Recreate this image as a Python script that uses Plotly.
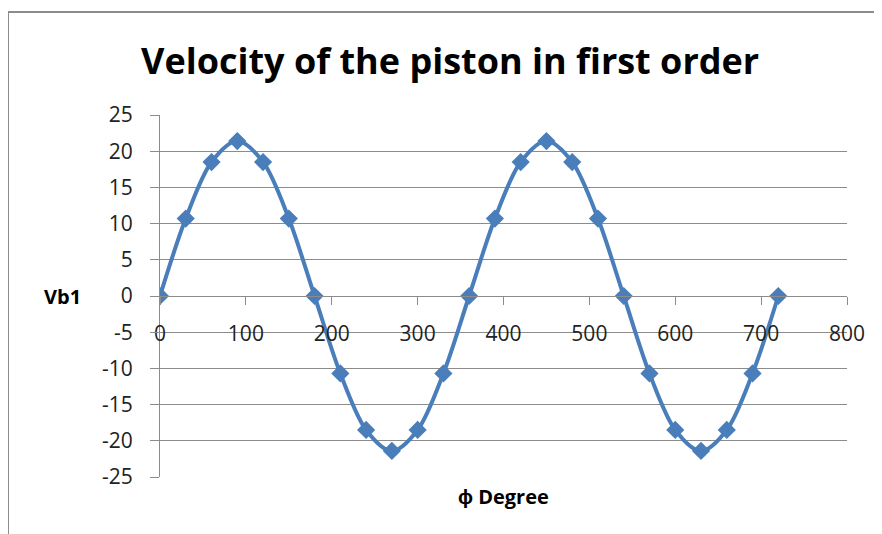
import plotly.graph_objects as go

# ===============================
# DATA
# ===============================
phi_deg = [0, 30, 60, 90, 120, 150, 180, 210, 240, 270, 300, 330, 360,
           390, 420, 450, 480, 510, 540, 570, 600, 630, 660, 690, 720]
vb1 = [0, 10.7, 18.5, 21.4, 18.5, 10.7, 0, -10.7, -18.5, -21.4, -18.5, -10.7, 0,
       10.7, 18.5, 21.4, 18.5, 10.7, 0, -10.7, -18.5, -21.4, -18.5, -10.7, 0]

x_ticks = [0, 100, 200, 300, 400, 500, 600, 700, 800]
y_ticks = [-25, -20, -15, -10, -5, 0, 5, 10, 15, 20, 25]
y_tick_text = ["-25", "-20", "-15", "-10", "-5", "0", "5", "10", "15", "20", "25"]

TITLE = "Velocity of the piston in first order"
X_TITLE = "ϕ Degree"
Y_TITLE = "Vb1"

# ===============================
# STYLE
# ===============================
BLUE = "#4a7ebb"
GRID = "#8c8c8c"
FONT = "'Open Sans', sans-serif"
OFF = 8  # page body margin
W, H = 882 - OFF, 534 - OFF
L, R, T, B = 160 - OFF, 35, 115 - OFF, 57
PW, PH = W - L - R, H - T - B


def px_to_paper(x, y):
    # x, y are pixel positions in the reference picture
    return (x - OFF - L) / PW, (H - B - (y - OFF)) / PH


def label(fig, text, x, y, size):
    px, py = px_to_paper(x, y)
    fig.add_annotation(text=f"<b>{text}</b>", x=px, y=py, xref="paper", yref="paper",
                       xanchor="center", yanchor="middle", showarrow=False,
                       font=dict(family=FONT, size=size, color="black"))


fig = go.Figure()
fig.add_trace(go.Scatter(
    x=phi_deg, y=vb1, mode="lines+markers",
    line=dict(color=BLUE, width=4, shape="spline", smoothing=0.9),
    marker=dict(symbol="diamond", size=14, color=BLUE),
    showlegend=False,
))

fig.update_layout(
    width=W, height=H,
    margin=dict(l=L, r=R, t=T, b=B),
    plot_bgcolor="white", paper_bgcolor="white",
    font=dict(family=FONT, size=21, color="#222222"),
    xaxis=dict(
        range=[0, 800], tickvals=x_ticks,
        showgrid=False, zeroline=False,
        showline=True, linecolor=GRID, linewidth=1,
        ticks="outside", ticklen=8, tickcolor=GRID,
        anchor="free", position=0.5,
        ticklabelstandoff=11,
    ),
    yaxis=dict(
        range=[-25, 25], tickvals=y_ticks, ticktext=y_tick_text,
        showgrid=True, gridcolor=GRID, gridwidth=1,
        zeroline=False,
        showline=True, linecolor=GRID, linewidth=1,
        ticks="outside", ticklen=9, tickcolor=GRID,
        ticklabelstandoff=13,
    ),
)

# chart title and axis titles, placed like the spreadsheet chart
label(fig, TITLE, 450, 60, 36)
label(fig, Y_TITLE, 62, 296, 20)
label(fig, X_TITLE, 503, 496, 20)

# outer chart border (left and top visible, the rest runs off the image)
bx0, by1 = px_to_paper(8, 12)
fig.add_shape(type="rect", xref="paper", yref="paper",
              x0=bx0, y0=-0.3, x1=1.2, y1=by1,
              line=dict(color="#8c8c8c", width=2), layer="below")

fig.write_html("out.html")
